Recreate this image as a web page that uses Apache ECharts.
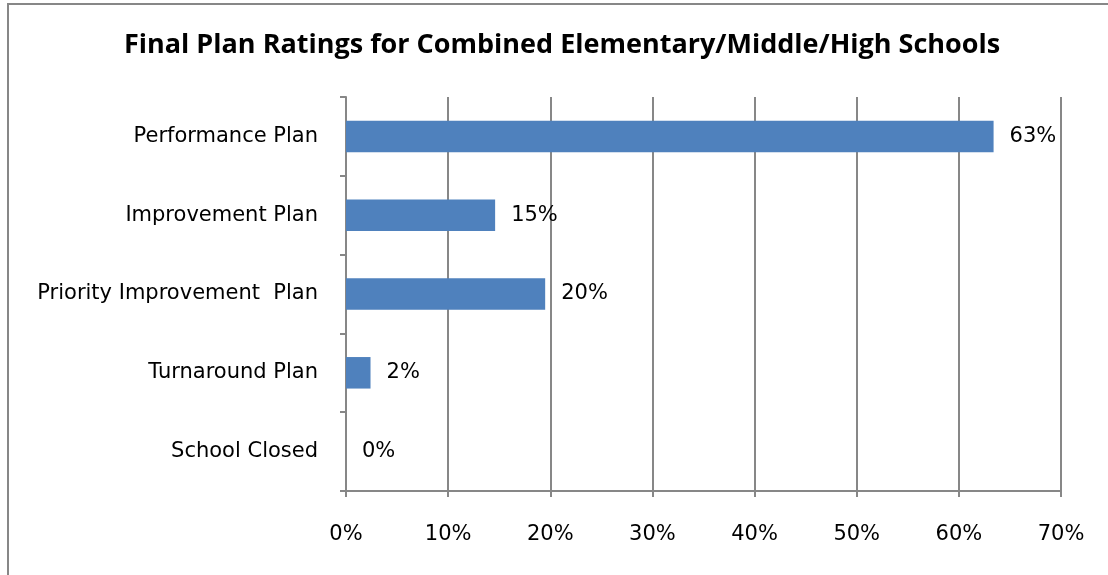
<!DOCTYPE html>
<html><head><meta charset="utf-8">
<script src="https://cdn.jsdelivr.net/npm/echarts@6/dist/echarts.min.js"></script>
<style>html,body{margin:0;padding:0;background:#fff}#c{width:1108px;height:575px}</style>
</head><body><div id="c"></div>
<script>
var title = 'Final Plan Ratings for Combined Elementary/Middle/High Schools';
var categories = ['Performance Plan','Improvement Plan','Priority Improvement  Plan','Turnaround Plan','School Closed'];
var values = [63.4, 14.6, 19.5, 2.4, 0];
var xTicks = [0, 10, 20, 30, 40, 50, 60, 70];
var font = 'DejaVu Sans';
var grey = '#878787';
var chart = echarts.init(document.getElementById('c'));
chart.setOption({
  animation: false,
  backgroundColor: '#fff',
  title: {text: title, left: 119, top: 27, textStyle: {fontFamily: 'Open Sans', fontWeight: 'bold', fontSize: 27, color: '#000'}},
  graphic: [
    {type: 'line', shape: {x1: 8, y1: 4, x2: 8, y2: 575}, style: {stroke: grey, lineWidth: 2}, silent: true},
    {type: 'line', shape: {x1: 7, y1: 4, x2: 1108, y2: 4}, style: {stroke: grey, lineWidth: 2}, silent: true}
  ],
  grid: {left: 346, right: 47, top: 97, bottom: 84},
  xAxis: {type: 'value', min: xTicks[0], max: xTicks[xTicks.length-1], interval: 10,
    axisLine: {show: true, lineStyle: {color: grey, width: 2}},
    axisTick: {show: true, length: 6, lineStyle: {color: grey, width: 2}},
    splitLine: {show: true, lineStyle: {color: grey, width: 2}},
    axisLabel: {formatter: '{value}%', margin: 33, fontFamily: font, fontSize: 21, color: '#000'}},
  yAxis: {type: 'category', data: categories, inverse: true,
    axisLine: {show: true, lineStyle: {color: grey, width: 2}},
    axisTick: {show: true, length: 6, lineStyle: {color: grey, width: 2}},
    axisLabel: {margin: 28, fontFamily: font, fontSize: 21, color: '#000'}},
  series: [{type: 'bar', data: values, barWidth: '40%', itemStyle: {color: '#4f81bd'},
    label: {show: true, position: 'right', distance: 16, fontFamily: font, fontSize: 21, color: '#000',
      formatter: function (p) { return Math.round(p.value) + '%'; }}}]
});
</script></body></html>
